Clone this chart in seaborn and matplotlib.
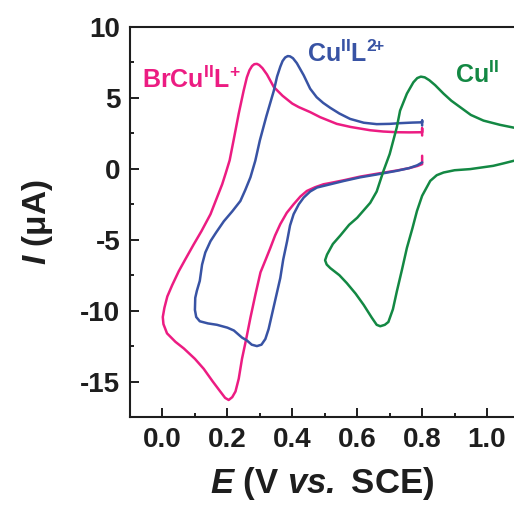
import matplotlib
matplotlib.use("Agg")
import matplotlib.pyplot as plt
import seaborn as sns
import pandas as pd
from matplotlib.ticker import MultipleLocator, FuncFormatter

# ---------------- data (E in V vs SCE, I in uA), traversal order ----------------
pink_E = [0.80, 0.80, 0.80, 0.76, 0.722, 0.68, 0.64, 0.58, 0.537, 0.486, 0.455, 0.42, 0.40, 0.37,
          0.343, 0.322, 0.308, 0.298, 0.291, 0.283, 0.276, 0.268, 0.26, 0.25, 0.235, 0.219, 0.207,
          0.195, 0.184, 0.165, 0.148, 0.12, 0.096, 0.07, 0.05, 0.03, 0.015, 0.006, 0.001, 0.003,
          0.014, 0.04, 0.066, 0.10, 0.127, 0.155, 0.178, 0.193, 0.204, 0.215, 0.225, 0.235, 0.245,
          0.258, 0.271, 0.286, 0.302, 0.318, 0.332, 0.347, 0.363, 0.383, 0.404, 0.425, 0.445,
          0.47, 0.496, 0.517, 0.56, 0.609, 0.66, 0.722, 0.76, 0.785, 0.80, 0.80]
pink_I = [2.35, 2.85, 2.58, 2.57, 2.58, 2.63, 2.72, 2.95, 3.17, 3.64, 4.0, 4.35, 4.6, 5.15,
          5.77, 6.65, 7.1, 7.32, 7.4, 7.38, 7.25, 6.95, 6.45, 5.5, 3.9, 2.0, 0.6,
          -0.3, -1.09, -2.2, -3.2, -4.4, -5.34, -6.4, -7.23, -8.2, -9.0, -9.8, -10.45, -10.95,
          -11.6, -12.2, -12.67, -13.4, -14.1, -15.0, -15.7, -16.15, -16.3, -16.1, -15.7, -14.8,
          -13.4, -12.0, -10.5, -8.9, -7.3, -6.4, -5.6, -4.7, -3.9, -3.1, -2.5, -1.95, -1.56,
          -1.3, -1.09, -1.0, -0.8, -0.55, -0.35, -0.12, 0.05, 0.2, 0.33, 0.92]

blue_E = [0.80, 0.80, 0.80, 0.77, 0.732, 0.70, 0.66, 0.62, 0.578, 0.545, 0.517, 0.495, 0.475,
          0.455, 0.435, 0.414, 0.402, 0.393, 0.386, 0.378, 0.37, 0.363, 0.353, 0.343, 0.32,
          0.30, 0.286, 0.271, 0.255, 0.24, 0.215, 0.189, 0.165, 0.148, 0.132, 0.122, 0.115,
          0.106, 0.101, 0.10, 0.104, 0.115, 0.14, 0.168, 0.20, 0.22, 0.245, 0.26, 0.275, 0.291,
          0.305, 0.317, 0.327, 0.337, 0.348, 0.358, 0.363, 0.372, 0.384, 0.393, 0.404, 0.42,
          0.435, 0.455, 0.476, 0.517, 0.56, 0.609, 0.66, 0.722, 0.76, 0.785, 0.80]
blue_I = [3.05, 3.4, 3.28, 3.26, 3.22, 3.17, 3.15, 3.25, 3.52, 3.9, 4.3, 4.65, 5.05,
          5.65, 6.6, 7.45, 7.8, 7.93, 7.95, 7.85, 7.6, 7.2, 6.5, 5.5, 3.7,
          2.0, 0.57, -0.6, -1.5, -2.27, -3.0, -3.7, -4.5, -5.1, -5.9, -6.76, -7.9,
          -8.6, -9.1, -9.95, -10.45, -10.75, -10.9, -11.0, -11.2, -11.4, -11.9, -12.1, -12.4, -12.5,
          -12.4, -12.0, -11.3, -10.3, -9.2, -8.2, -7.7, -6.4, -5.1, -4.0, -3.2, -2.5,
          -2.03, -1.6, -1.32, -1.09, -0.85, -0.6, -0.4, -0.14, 0.05, 0.25, 0.45]

green_E = [1.083, 1.04, 0.989, 0.95, 0.917, 0.89, 0.866, 0.84, 0.822, 0.808, 0.796, 0.785,
           0.773, 0.753, 0.732, 0.722, 0.70, 0.681, 0.66, 0.64, 0.60, 0.575, 0.548, 0.525,
           0.507, 0.501, 0.506, 0.517, 0.545, 0.568, 0.595, 0.62, 0.645, 0.66, 0.671, 0.685,
           0.696, 0.71, 0.722, 0.738, 0.753, 0.77, 0.784, 0.80, 0.825, 0.845, 0.866, 0.90,
           0.948, 0.985, 1.019, 1.05, 1.083]
green_I = [2.9, 3.1, 3.4, 3.8, 4.35, 4.8, 5.3, 5.9, 6.25, 6.45, 6.5, 6.4,
           6.1, 5.3, 4.1, 2.93, 1.04, -0.14, -1.6, -2.4, -3.45, -3.95, -4.7, -5.3,
           -6.05, -6.45, -6.75, -7.0, -7.5, -8.06, -8.8, -9.6, -10.5, -11.0, -11.1, -11.0,
           -10.8, -9.9, -8.65, -7.1, -5.58, -4.2, -2.98, -1.9, -0.85, -0.45, -0.26, -0.1,
           -0.02, 0.1, 0.21, 0.38, 0.57]

x_ticks = [0.0, 0.2, 0.4, 0.6, 0.8, 1.0]
y_ticks = [-15, -10, -5, 0, 5, 10]

labels = ["BrCu$^{\\mathbf{II}}$L$^{\\mathbf{+}}$",
          "Cu$^{\\mathbf{II}}$L$^{\\mathbf{2}\\!\\mathbf{+}}$",
          "Cu$^{\\mathbf{II}}$"]
label_E = [-0.062, 0.446, 0.90]
label_I = [5.67, 7.52, 6.03]

# ---------------- style ----------------
sns.set_style("ticks")
plt.rcParams['font.family'] = ['Liberation Sans', 'DejaVu Sans']
plt.rcParams['mathtext.fontset'] = 'custom'
plt.rcParams['mathtext.rm'] = 'Liberation Sans'
plt.rcParams['mathtext.bf'] = 'Liberation Sans:bold'
plt.rcParams['mathtext.it'] = 'Liberation Sans:italic'
plt.rcParams['mathtext.bfit'] = 'Liberation Sans:italic:bold'

PINK = "#EC1C82"
BLUE = "#3853A4"
GREEN = "#138843"
DARK = "#1E1E1E"
colors = [PINK, BLUE, GREEN]

fig = plt.figure(figsize=(5.14, 5.09), dpi=100)
ax = fig.add_axes([130/514, 92/509, 1 - 130/514, (417 - 27)/509])

curves = [(pink_E, pink_I), (blue_E, blue_I), (green_E, green_I)]
for (E, I), c in zip(curves, colors):
    df = pd.DataFrame({"E": E, "I": I})
    sns.lineplot(data=df, x="E", y="I", sort=False, estimator=None, color=c,
                 linewidth=1.8, ax=ax, solid_joinstyle='round')

for t, x, y, c in zip(labels, label_E, label_I, colors):
    ax.text(x, y, t, color=c, fontsize=18, fontweight='bold', ha='left', va='baseline')

ax.set_xlim(-0.1, 1.083)
ax.set_ylim(-17.5, 10)
ax.set_xticks(x_ticks)
ax.set_yticks(y_ticks)
ax.xaxis.set_minor_locator(MultipleLocator(0.1))
ax.yaxis.set_minor_locator(MultipleLocator(2.5))
ax.xaxis.set_major_formatter(FuncFormatter(lambda v, p: f"{v:.1f}"))
ax.yaxis.set_major_formatter(FuncFormatter(lambda v, p: f"{int(round(v))}"))

ax.spines['right'].set_visible(False)
for s in ['left', 'bottom', 'top']:
    ax.spines[s].set_linewidth(1.5)
    ax.spines[s].set_color(DARK)
ax.tick_params(which='major', direction='in', length=6.5, width=1.4, color=DARK,
               labelsize=20, pad=7, top=False, right=False)
ax.tick_params(which='minor', direction='in', length=3.2, width=1.4, color=DARK,
               top=False, right=False)
for lab in ax.get_xticklabels() + ax.get_yticklabels():
    lab.set_fontweight('bold')
    lab.set_color(DARK)

ax.set_xlabel("$\\mathbfit{E}$ (V $\\mathbfit{vs.}$ SCE)", fontsize=25, fontweight='bold',
              color=DARK, labelpad=9)
ax.set_ylabel("$\\mathbfit{I}$ (μA)", fontsize=24, fontweight='bold', color=DARK,
              labelpad=18)

fig.savefig("out.png", dpi=100)
